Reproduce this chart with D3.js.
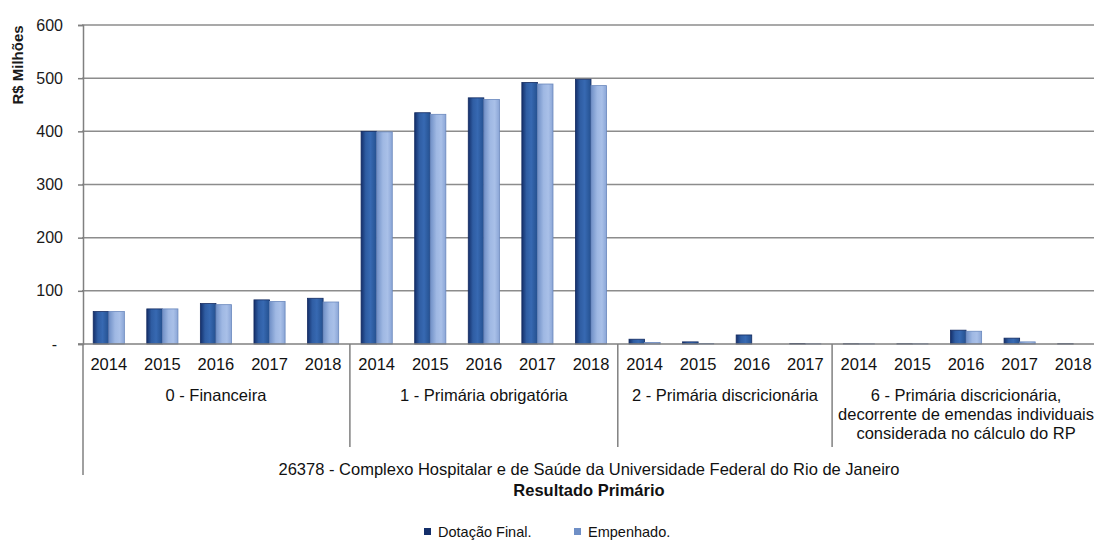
<!DOCTYPE html>
<html>
<head>
<meta charset="utf-8">
<script src="https://cdn.jsdelivr.net/npm/d3@7/dist/d3.min.js"></script>
<style>
  html, body { margin: 0; padding: 0; background: #fff; }
  svg { display: block; font-family: "Liberation Sans", Arial, sans-serif; }
</style>
</head>
<body>
<svg id="chart" width="1094" height="540"></svg>
<script>
// Result groups and the years shown under each one
const groups = [
  { name: ["0 - Financeira"], years: ["2014", "2015", "2016", "2017", "2018"] },
  { name: ["1 - Primária obrigatória"], years: ["2014", "2015", "2016", "2017", "2018"] },
  { name: ["2 - Primária discricionária"], years: ["2014", "2015", "2016", "2017"] },
  { name: ["6 - Primária discricionária,", "decorrente de emendas individuais", "considerada no cálculo do RP"], years: ["2014", "2015", "2016", "2017", "2018"] }
];

// R$ millions, one value per year in the order above
const dotacaoFinal = [61, 66, 76, 83, 86,  400, 435, 463, 492, 498,  9, 4, 17, 1,  0.5, 0.5, 26, 11, 0.5];
const empenhado    = [61, 66, 74, 80, 79,  399, 432, 460, 489, 486,  3, 1, 0, 0.5,  0.5, 0.5, 24, 4, 0];

const yTicks = [0, 100, 200, 300, 400, 500, 600];
const seriesNames = ["Dotação Final.", "Empenhado."];
const unitTitle = "R$ Milhões";
const orgTitle = "26378 - Complexo Hospitalar e de Saúde da Universidade Federal do Rio de Janeiro";
const resultTitle = "Resultado Primário";

(function draw() {
  // flat list of year slots
  const slots = [];
  groups.forEach((g, gi) => g.years.forEach(yr => slots.push({ group: gi, year: yr })));
  slots.forEach((s, i) => { s.dot = dotacaoFinal[i]; s.emp = empenhado[i]; s.i = i; });

  const svg = d3.select("#chart");
  const plotLeft = 82, plotRight = 1100, plotTop = 25, plotBottom = 344;
  const axisColor = "#808080";
  const labelSize = 16.5;

  const x = d3.scaleBand().domain(slots.map(s => s.i)).range([plotLeft, plotRight]).paddingInner(0).paddingOuter(0);
  const inner = d3.scaleBand().domain(["dot", "emp"]).range([0, x.bandwidth()]).paddingOuter(0.72).paddingInner(0);
  const y = d3.scaleLinear().domain([0, 600]).range([plotBottom, plotTop]);

  // gradients for the cylinder-like bar shading
  const defs = svg.append("defs");
  function grad(id, stops) {
    const g = defs.append("linearGradient").attr("id", id).attr("x1", "0%").attr("x2", "100%").attr("y1", "0%").attr("y2", "0%");
    stops.forEach(([o, c]) => g.append("stop").attr("offset", o).attr("stop-color", c));
  }
  grad("gDot", [["0%", "#142f6a"], ["30%", "#2f5da3"], ["60%", "#3769b2"], ["100%", "#24508f"]]);
  grad("gEmp", [["0%", "#6f8fc6"], ["40%", "#9fb8e3"], ["70%", "#a9c0e8"], ["100%", "#8aa5d6"]]);

  // horizontal gridlines
  svg.append("g").selectAll("line").data(yTicks.filter(t => t > 0)).join("line")
    .attr("x1", plotLeft).attr("x2", plotRight)
    .attr("y1", d => y(d)).attr("y2", d => y(d))
    .attr("stroke", "#8c8c8c").attr("stroke-width", 1.5);

  // y axis
  const yAxis = d3.axisLeft(y).tickValues(yTicks).tickSize(5).tickPadding(15)
    .tickFormat(d => d === 0 ? "-" : d);
  const ya = svg.append("g").attr("transform", `translate(${plotLeft + 1},0)`).call(yAxis);
  ya.select(".domain").attr("stroke", axisColor).attr("stroke-width", 1.5);
  ya.selectAll(".tick line").attr("stroke", axisColor).attr("stroke-width", 1.5);
  ya.selectAll(".tick text").attr("font-size", 16).attr("fill", "#1a1a1a")
    .attr("font-family", "Liberation Sans, Arial, sans-serif")
    .attr("dx", d => d === 0 ? -6 : 0);

  svg.append("text").attr("transform", `translate(23,65) rotate(-90)`)
    .attr("text-anchor", "middle").attr("font-size", 15).attr("font-weight", "bold").attr("fill", "#1a1a1a")
    .text(unitTitle);

  // bars
  const bars = svg.append("g");
  bars.selectAll("rect.dot").data(slots).join("rect").attr("class", "dot")
    .attr("x", d => x(d.i) + inner("dot")).attr("width", inner.bandwidth())
    .attr("y", d => y(d.dot)).attr("height", d => y(0) - y(d.dot))
    .attr("fill", "url(#gDot)").attr("stroke", "#132a60").attr("stroke-width", 0.8);
  bars.selectAll("rect.emp").data(slots).join("rect").attr("class", "emp")
    .attr("x", d => x(d.i) + inner("emp")).attr("width", inner.bandwidth())
    .attr("y", d => y(d.emp)).attr("height", d => y(0) - y(d.emp))
    .attr("fill", "url(#gEmp)").attr("stroke", "#6a88bd").attr("stroke-width", 0.8);

  // category axis (years)
  const xAxis = d3.axisBottom(x).tickSize(0).tickPadding(0).tickFormat(i => slots[i].year);
  const xa = svg.append("g").attr("transform", `translate(0,${plotBottom})`).call(xAxis);
  xa.select(".domain").remove();
  xa.selectAll(".tick text").attr("font-size", labelSize).attr("fill", "#111")
    .attr("font-family", "Liberation Sans, Arial, sans-serif").attr("y", 26).attr("dy", 0);

  svg.append("line").attr("x1", plotLeft - 4).attr("x2", plotRight).attr("y1", plotBottom).attr("y2", plotBottom)
    .attr("stroke", axisColor).attr("stroke-width", 1.5);

  // group dividers and labels
  let start = 0;
  const gAxis = svg.append("g");
  groups.forEach((g, gi) => {
    const x0 = x(start), x1 = x(start + g.years.length - 1) + x.bandwidth();
    if (gi > 0) {
      gAxis.append("line").attr("x1", x0).attr("x2", x0).attr("y1", plotBottom).attr("y2", 447)
        .attr("stroke", axisColor).attr("stroke-width", 1.5);
    }
    const t = gAxis.append("text").attr("text-anchor", "middle").attr("font-size", labelSize).attr("fill", "#111")
      .attr("x", (x0 + x1) / 2).attr("y", 401);
    g.name.forEach((line, li) => t.append("tspan").attr("x", (x0 + x1) / 2).attr("dy", li === 0 ? 0 : 19).text(line));
    start += g.years.length;
  });
  // outer left border of the category levels
  svg.append("line").attr("x1", plotLeft + 1).attr("x2", plotLeft + 1).attr("y1", plotBottom).attr("y2", 475)
    .attr("stroke", axisColor).attr("stroke-width", 1.5);

  svg.append("text").attr("x", (plotLeft + plotRight) / 2 - 2).attr("y", 475).attr("text-anchor", "middle")
    .attr("font-size", labelSize).attr("fill", "#111").text(orgTitle);
  svg.append("text").attr("x", (plotLeft + plotRight) / 2 - 2).attr("y", 496).attr("text-anchor", "middle")
    .attr("font-size", labelSize).attr("font-weight", "bold").attr("fill", "#111").text(resultTitle);

  // legend
  const legend = svg.append("g").attr("transform", "translate(424,537)");
  const legendColors = ["#142f6a", "#6f8fc6"];
  const legendX = [0, 150];
  seriesNames.forEach((n, i) => {
    legend.append("rect").attr("x", legendX[i]).attr("y", -9).attr("width", 7).attr("height", 7).attr("fill", legendColors[i]);
    legend.append("text").attr("x", legendX[i] + 14).attr("y", 0).attr("font-size", 14.5).attr("fill", "#111").text(n);
  });
})();
</script>
</body>
</html>
